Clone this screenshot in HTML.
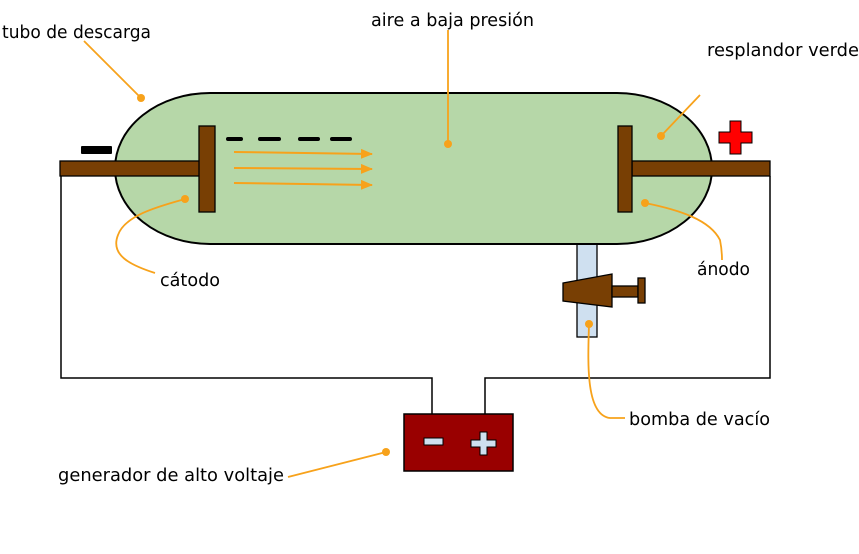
<!DOCTYPE html>
<html><head><meta charset="utf-8"><style>
html,body{margin:0;padding:0;background:#fff}
svg{display:block}
</style></head><body>
<svg width="859" height="554" viewBox="0 0 859 554" xmlns="http://www.w3.org/2000/svg" font-family="DejaVu Sans, Liberation Sans, sans-serif" font-size="18">
<defs><marker id="ar" markerWidth="12" markerHeight="10" refX="11" refY="5" orient="auto" markerUnits="userSpaceOnUse"><path d="M0,0 L12,5 L0,10 Z" fill="#f7a21b"/></marker></defs>
<polyline points="61,176 61,378 432,378 432,414" fill="none" stroke="#000" stroke-width="1.5"/>
<polyline points="770,176 770,378 485,378 485,414" fill="none" stroke="#000" stroke-width="1.5"/>
<rect x="577" y="240" width="20" height="97" fill="#cfe0f0" stroke="#000" stroke-width="1.3"/>
<path d="M210,93 L617,93 A95,75.5 0 0 1 617,244 L210,244 A95,75.5 0 0 1 210,93 Z" fill="#b6d7a8" stroke="#000" stroke-width="2"/>
<polygon points="563,283 612,274 612,307 563,301" fill="#783f04" stroke="#000" stroke-width="1.3"/>
<rect x="612" y="286" width="26" height="11" fill="#783f04" stroke="#000" stroke-width="1.3"/>
<rect x="638" y="278" width="7" height="25" fill="#783f04" stroke="#000" stroke-width="1.3"/>
<rect x="60" y="161" width="140" height="15" fill="#783f04" stroke="#000" stroke-width="1.3"/>
<rect x="199" y="126" width="16" height="86" fill="#783f04" stroke="#000" stroke-width="1.3"/>
<rect x="81" y="146" width="31" height="8" rx="1" fill="#000"/>
<rect x="632" y="161" width="138" height="15" fill="#783f04" stroke="#000" stroke-width="1.3"/>
<rect x="618" y="126" width="14" height="86" fill="#783f04" stroke="#000" stroke-width="1.3"/>
<path d="M730,121 h11 v11 h11 v11 h-11 v11 h-11 v-11 h-11 v-11 h11 z" fill="#ff0000" stroke="#000" stroke-width="1"/>
<g stroke="#000" stroke-width="4" stroke-linecap="round">
<line x1="228" y1="139" x2="241" y2="139"/><line x1="260" y1="139" x2="279" y2="139"/>
<line x1="300" y1="139" x2="318" y2="139"/><line x1="332" y1="139" x2="350" y2="139"/>
</g>
<g stroke="#f7a21b" stroke-width="2" marker-end="url(#ar)">
<line x1="234" y1="152" x2="372" y2="154"/><line x1="234" y1="168" x2="372" y2="169"/><line x1="234" y1="183" x2="372" y2="185"/>
</g>
<rect x="404" y="414" width="109" height="57" fill="#990000" stroke="#000" stroke-width="1.5"/>
<rect x="424" y="438" width="19" height="7" fill="#cfe0f0" stroke="#000" stroke-width="1"/>
<path d="M480,432 h7 v8 h9 v7 h-9 v8 h-7 v-8 h-9 v-7 h9 z" fill="#cfe0f0" stroke="#000" stroke-width="1"/>
<g fill="none" stroke="#f7a21b" stroke-width="1.8">
<line x1="84" y1="41" x2="141" y2="98"/>
<line x1="448" y1="30" x2="448" y2="144"/>
<line x1="700" y1="95" x2="661" y2="136"/>
<path d="M185,199 C160,206 125,215 118,235 C110,255 130,265 155,273"/>
<path d="M645,203 C680,210 710,220 720,240 C722,250 722,258 722,260"/>
<path d="M589,324 C588,360 585,415 610,418 L625,418"/>
<line x1="386" y1="452" x2="288" y2="477"/>
</g>
<g fill="#f7a21b">
<circle cx="141" cy="98" r="4"/><circle cx="448" cy="144" r="4"/><circle cx="661" cy="136" r="4"/>
<circle cx="185" cy="199" r="4"/><circle cx="645" cy="203" r="4"/><circle cx="589" cy="324" r="4"/><circle cx="386" cy="452" r="4"/>
</g>
<g fill="#000">
<text x="2" y="38" textLength="149" lengthAdjust="spacingAndGlyphs">tubo de descarga</text>
<text x="371" y="26" textLength="163" lengthAdjust="spacingAndGlyphs">aire a baja presión</text>
<text x="707" y="56" textLength="152" lengthAdjust="spacingAndGlyphs">resplandor verde</text>
<text x="160" y="286" textLength="60" lengthAdjust="spacingAndGlyphs">cátodo</text>
<text x="697" y="275" textLength="53" lengthAdjust="spacingAndGlyphs">ánodo</text>
<text x="629" y="425" textLength="141" lengthAdjust="spacingAndGlyphs">bomba de vacío</text>
<text x="58" y="481" textLength="226" lengthAdjust="spacingAndGlyphs">generador de alto voltaje</text>
</g>
</svg>
</body></html>
